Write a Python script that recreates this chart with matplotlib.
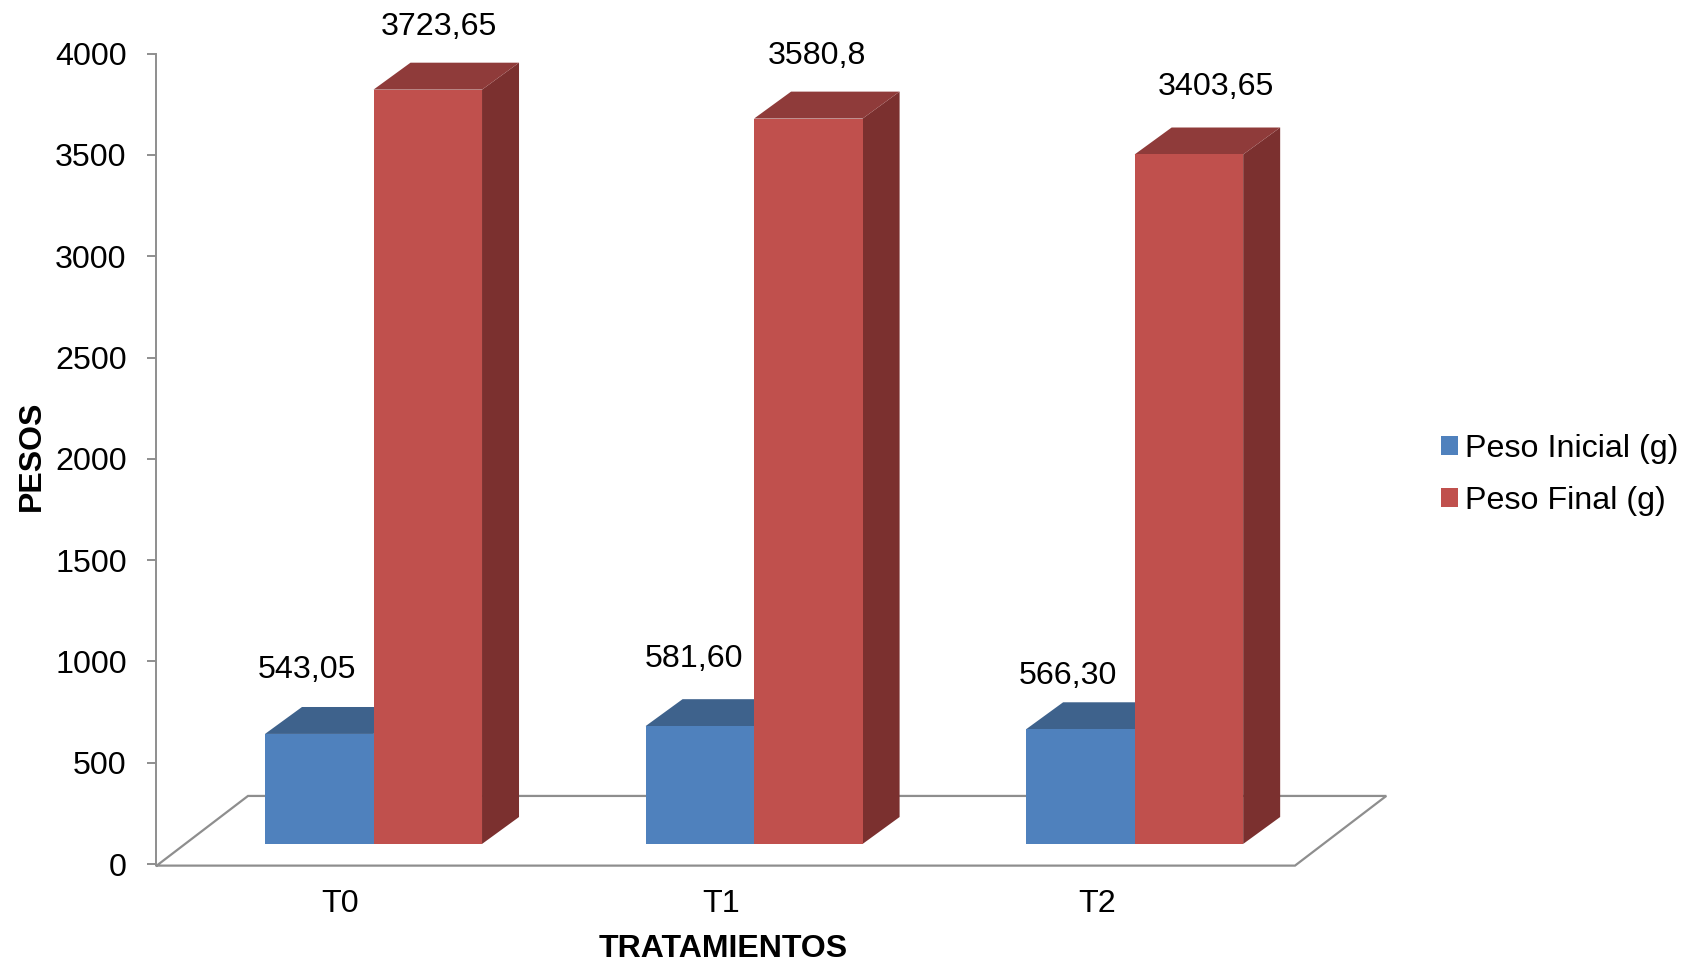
import numpy as np
import matplotlib
matplotlib.use("Agg")
import matplotlib.pyplot as plt
from matplotlib.patches import Patch

categories = ["T0", "T1", "T2"]
peso_inicial = [543.05, 581.60, 566.30]
peso_final = [3723.65, 3580.8, 3403.65]
labels_inicial = ["543,05", "581,60", "566,30"]
labels_final = ["3723,65", "3580,8", "3403,65"]
series_names = ["Peso Inicial (g)", "Peso Final (g)"]
y_ticks = [0, 500, 1000, 1500, 2000, 2500, 3000, 3500, 4000]

# hand placed data labels in the original, offsets in pixels from the bar top
offset_inicial = [(-12, 64), (-6, 67), (-12, 53)]
offset_final = [(11, 63), (9, 63), (27, 67)]
tick_shift = [-0.016, -0.013, -0.022]

BLUE, BLUE_TOP = "#4F81BD", "#3E628C"
RED, RED_TOP, RED_SIDE = "#C0504D", "#8F3B3A", "#7B302F"
GREY = "#8E8E8E"
FONT = 23.2

plt.rcParams["font.family"] = ["Liberation Sans", "DejaVu Sans"]

W, H = 1683, 963
fig = plt.figure(figsize=(W / 100, H / 100), dpi=100)
left, right, bottom, top = 156.7, 1295, 864, 53.7
ax = fig.add_axes([left / W, 1 - bottom / H, (right - left) / W, (bottom - top) / H])
ax.set_xlim(-0.5, 2.5)
ax.set_ylim(0, 4000)

# fake 3d: sizes of the oblique projection in data units
bar_w = 0.286
bar_start = -0.2146
bar_step = 1.003
depth_x, depth_y = 0.0975, 133
base_y = 99
floor_x, floor_y = 0.2406, 336
floor_front = -8


def draw_bar(x0, value, color, top_color, side_color=None):
    y0, y1 = base_y, base_y + value
    x1 = x0 + bar_w
    if side_color is not None:
        ax.fill([x1, x1 + depth_x, x1 + depth_x, x1],
                [y0, y0 + depth_y, y1 + depth_y, y1],
                color=side_color, lw=0, zorder=3, clip_on=False)
    ax.fill([x0, x1, x1 + depth_x, x0 + depth_x],
            [y1, y1, y1 + depth_y, y1 + depth_y],
            color=top_color, lw=0, zorder=3, clip_on=False)
    ax.bar(x0, value, width=bar_w, bottom=base_y, align="edge",
           color=color, lw=0, zorder=3)


# floor
ax.plot([-0.5, 2.5, 2.5 + floor_x, -0.5 + floor_x, -0.5],
        [floor_front, floor_front, floor_y, floor_y, floor_front],
        color=GREY, lw=1.6, clip_on=False, zorder=1, solid_joinstyle="miter")

x = np.arange(len(categories))
for i in x:
    x_blue = i * bar_step + bar_start
    x_red = x_blue + bar_w
    draw_bar(x_blue, peso_inicial[i], BLUE, BLUE_TOP)
    draw_bar(x_red, peso_final[i], RED, RED_TOP, RED_SIDE)
    ax.annotate(labels_inicial[i], (x_blue + bar_w / 2, base_y + peso_inicial[i]),
                xytext=(offset_inicial[i][0] * 0.72, offset_inicial[i][1] * 0.72),
                textcoords="offset points", ha="center", va="center",
                fontsize=FONT, color="black", annotation_clip=False)
    ax.annotate(labels_final[i], (x_red + bar_w / 2, base_y + peso_final[i]),
                xytext=(offset_final[i][0] * 0.72, offset_final[i][1] * 0.72),
                textcoords="offset points", ha="center", va="center",
                fontsize=FONT, color="black", annotation_clip=False)

for s in ["top", "right", "bottom"]:
    ax.spines[s].set_visible(False)
ax.spines["left"].set_color(GREY)
ax.spines["left"].set_linewidth(1.4)
ax.spines["left"].set_position(("outward", 0.8))
ax.patch.set_alpha(0)

ax.set_yticks(y_ticks)
ax.tick_params(axis="y", length=6.8, width=1.4, color=GREY, pad=14, labelsize=FONT)
ax.set_xticks(x + np.array(tick_shift))
ax.set_xticklabels(categories)
ax.tick_params(axis="x", length=0, pad=18, labelsize=FONT)

fig.text(723 / W, 1 - 949 / H, "TRATAMIENTOS", fontsize=FONT - 0.2, fontweight="bold",
         ha="center", va="center")
fig.text(32 / W, 1 - 456 / H, "PESOS", fontsize=FONT - 0.2, fontweight="bold",
         rotation=90, ha="center", va="center")

handles = [Patch(color=BLUE, lw=0), Patch(color=RED, lw=0)]
fig.legend(handles, series_names, loc="upper left",
           bbox_to_anchor=(1441 / W, 1 - 434 / H), borderaxespad=0, borderpad=0,
           frameon=False, fontsize=FONT, handlelength=0.52, handleheight=0.52,
           handletextpad=0.24, labelspacing=0.68)

fig.savefig("out.png", dpi=100, facecolor="white")
